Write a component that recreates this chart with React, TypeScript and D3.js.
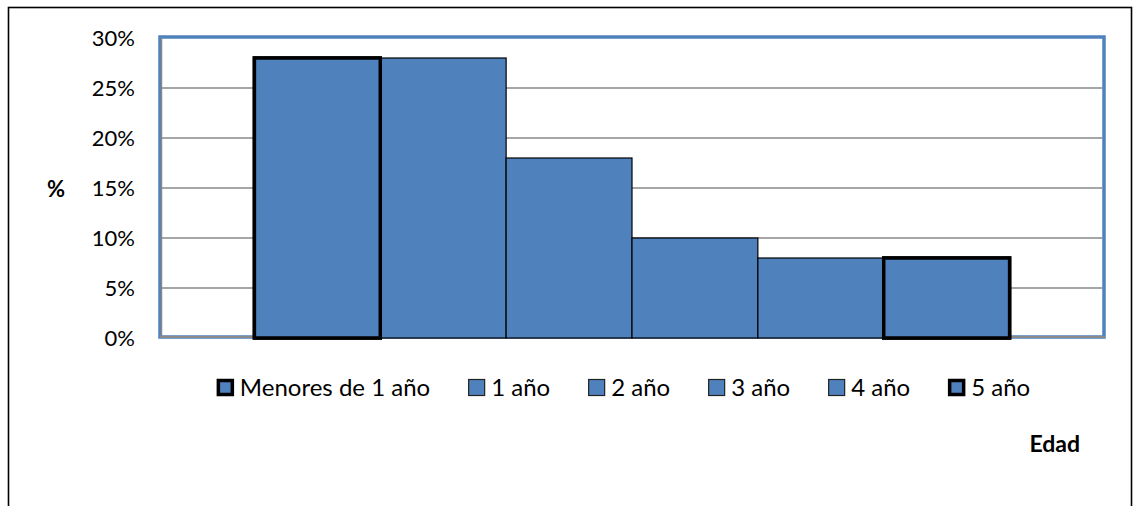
import React, { useEffect, useRef } from "react";
import * as d3 from "d3";

const categories = ["Menores de 1 año", "1 año", "2 año", "3 año", "4 año", "5 año"];
const values = [28, 28, 18, 10, 8, 8];
const thickBorder = [true, false, false, false, false, true];
const yTicks = [0, 5, 10, 15, 20, 25, 30];
const yAxisTitle = "%";
const xAxisTitle = "Edad";

const W = 1133;
const H = 506;
const FONT = "Lato, 'Noto Sans', sans-serif";
const BLUE = "#4F81BD";
const GRID = "#898989";

export default function App() {
  const ref = useRef<SVGSVGElement | null>(null);

  useEffect(() => {
    const svg = d3.select(ref.current);
    svg.selectAll("*").remove();

    const plot = { left: 160, right: 1104, top: 37, bottom: 337 };
    const y = d3.scaleLinear().domain([0, 30]).range([338, 38]);
    const x = d3
      .scaleBand<string>()
      .domain(categories)
      .range([plot.left, plot.right])
      .paddingInner(0)
      .paddingOuter(0.75);

    // outer frame
    svg
      .append("rect")
      .attr("x", 8.5)
      .attr("y", 7.5)
      .attr("width", 1123)
      .attr("height", 520)
      .attr("fill", "#fff")
      .attr("stroke", "#000")
      .attr("stroke-width", 1.6);

    // plot border (blue)
    svg
      .append("rect")
      .attr("x", plot.left)
      .attr("y", plot.top)
      .attr("width", plot.right - plot.left)
      .attr("height", plot.bottom - plot.top)
      .attr("fill", "#fff")
      .attr("stroke", BLUE)
      .attr("stroke-width", 3.5);

    // gridlines
    svg
      .append("g")
      .selectAll("line")
      .data(yTicks.filter((t) => t > 0 && t < 30))
      .join("line")
      .attr("x1", plot.left + 1)
      .attr("x2", plot.right - 1.5)
      .attr("y1", (d) => y(d))
      .attr("y2", (d) => y(d))
      .attr("stroke", GRID)
      .attr("stroke-width", 1.5);

    // axis lines
    svg
      .append("line")
      .attr("x1", 161.5)
      .attr("x2", 161.5)
      .attr("y1", 38)
      .attr("y2", 337)
      .attr("stroke", GRID)
      .attr("stroke-width", 1.5);
    svg
      .append("line")
      .attr("x1", plot.left)
      .attr("x2", plot.right + 1)
      .attr("y1", 337)
      .attr("y2", 337)
      .attr("stroke", GRID)
      .attr("stroke-width", 2);

    // bars
    svg
      .append("g")
      .selectAll("rect")
      .data(categories)
      .join("rect")
      .attr("x", (d) => x(d) as number)
      .attr("y", (_, i) => y(values[i]))
      .attr("width", x.bandwidth())
      .attr("height", (_, i) => y(0) - y(values[i]))
      .attr("fill", BLUE)
      .attr("stroke", "#000")
      .attr("stroke-width", (_, i) => (thickBorder[i] ? 3.5 : 1.2));
    // redraw thick-bordered bars on top so their borders show
    svg
      .append("g")
      .selectAll("rect")
      .data(categories.filter((_, i) => thickBorder[i]))
      .join("rect")
      .attr("x", (d) => x(d) as number)
      .attr("y", (d) => y(values[categories.indexOf(d)]))
      .attr("width", x.bandwidth())
      .attr("height", (d) => y(0) - y(values[categories.indexOf(d)]))
      .attr("fill", BLUE)
      .attr("stroke", "#000")
      .attr("stroke-width", 3.5);

    // y tick labels
    svg
      .append("g")
      .selectAll("text")
      .data(yTicks)
      .join("text")
      .attr("x", 135)
      .attr("y", (d) => y(d))
      .attr("dy", "0.36em")
      .attr("text-anchor", "end")
      .attr("font-family", FONT)
      .attr("font-size", 22)
      .attr("fill", "#000")
      .text((d) => `${d}%`);

    // axis titles
    svg
      .append("text")
      .attr("x", 56)
      .attr("y", 189)
      .attr("dy", "0.36em")
      .attr("text-anchor", "middle")
      .attr("font-family", FONT)
      .attr("font-weight", "bold")
      .attr("font-size", 22)
      .text(yAxisTitle);
    svg
      .append("text")
      .attr("x", 1080)
      .attr("y", 452)
      .attr("text-anchor", "end")
      .attr("font-family", FONT)
      .attr("font-weight", "bold")
      .attr("font-size", 23)
      .text(xAxisTitle);

    // legend
    const lg = svg.append("g");
    const marker = 17;
    const mGap = 6;
    const itemGap = 38;
    const items = categories.map((c, i) => {
      const g = lg.append("g");
      g.append("rect")
        .attr("x", thickBorder[i] ? 1.5 : 0.5)
        .attr("y", thickBorder[i] ? -marker / 2 + 1.5 : -marker / 2 + 0.5)
        .attr("width", thickBorder[i] ? marker - 3 : marker - 1)
        .attr("height", thickBorder[i] ? marker - 3 : marker - 1)
        .attr("fill", BLUE)
        .attr("stroke", thickBorder[i] ? "#000" : "#222")
        .attr("stroke-width", thickBorder[i] ? 3.5 : 1.2);
      const t = g
        .append("text")
        .attr("x", marker + mGap)
        .attr("y", 0)
        .attr("dy", "0.36em")
        .attr("font-family", FONT)
        .attr("font-size", 24)
        .text(c);
      const w = (t.node() as SVGTextElement).getComputedTextLength();
      return { g, w: marker + mGap + w };
    });
    const total = d3.sum(items, (d) => d.w) + itemGap * (items.length - 1);
    let cx = 623.5 - total / 2;
    items.forEach((it) => {
      it.g.attr("transform", `translate(${cx},387.5)`);
      cx += it.w + itemGap;
    });
  }, []);

  return (
    <svg
      ref={ref}
      width={W}
      height={H}
      style={{ position: "fixed", left: 0, top: 0, display: "block", background: "#fff" }}
    />
  );
}
